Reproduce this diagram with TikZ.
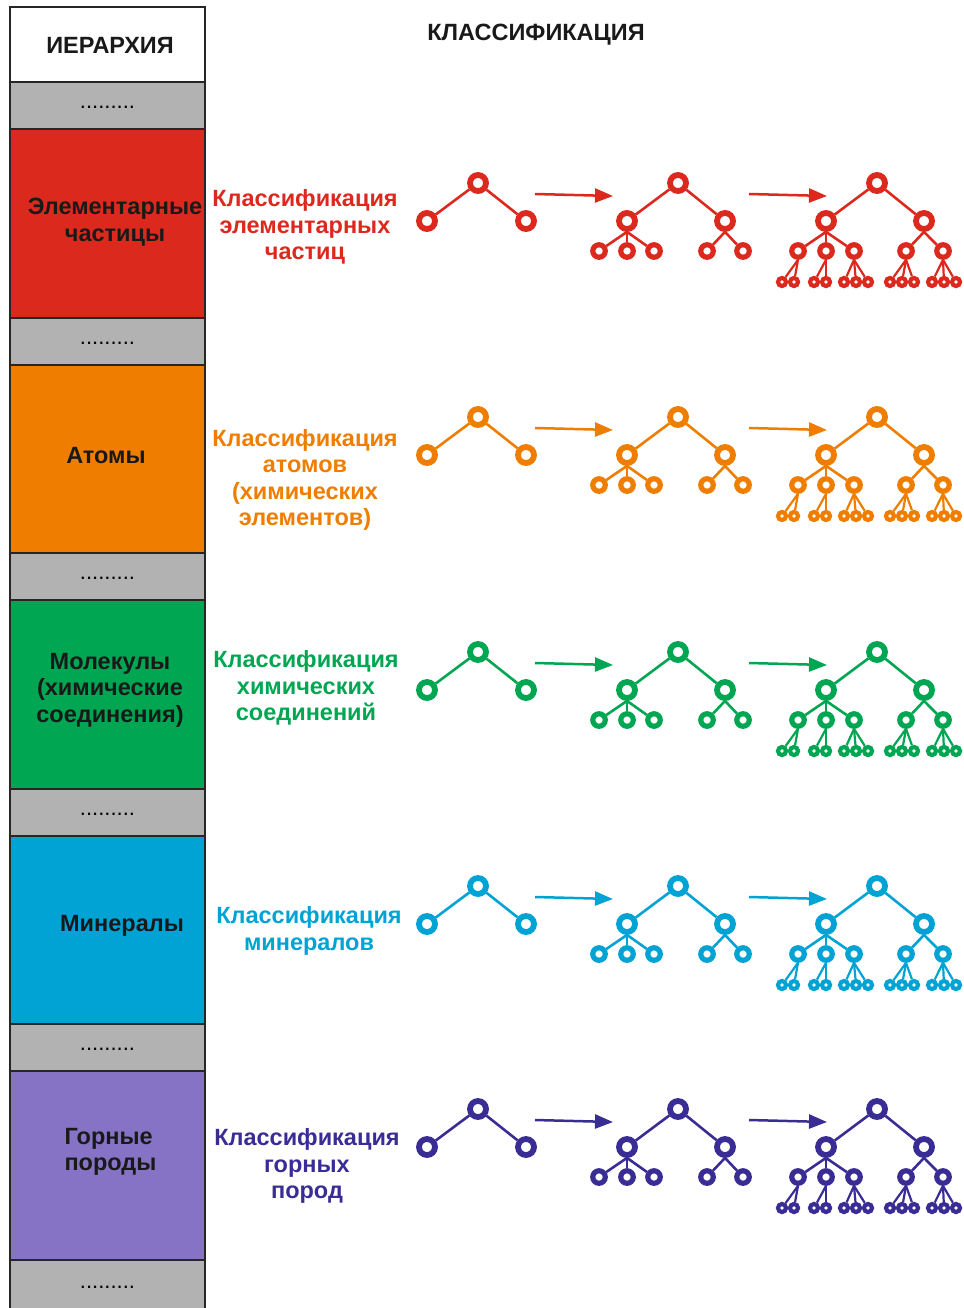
\documentclass[tikz,border=0pt]{standalone}
\usepackage{fontspec}
\setmainfont{Liberation Sans}
\usetikzlibrary{arrows.meta}

\definecolor{elemred}{HTML}{DC291E}
\definecolor{atomorange}{HTML}{EF7D00}
\definecolor{molgreen}{HTML}{00A651}
\definecolor{minblue}{HTML}{00A3D4}
\definecolor{rockfill}{HTML}{8673C6}
\definecolor{rockblue}{HTML}{3A2C95}
\definecolor{gapgray}{HTML}{B2B2B2}

\tikzset{
  levelbox/.style={draw=black!85, line width=1.6pt, minimum width=195pt, inner sep=0pt},
  gapbox/.style={levelbox, fill=gapgray, minimum height=47pt, text height=6pt, text depth=0pt,
    font=\fontsize{22}{22}\selectfont},
  bigring/.style={circle, draw, fill=white, line width=5.8pt, minimum size=16pt, inner sep=0pt},
  midring/.style={bigring, line width=5.2pt, minimum size=12.5pt},
  smallring/.style={bigring, line width=4.2pt, minimum size=8pt},
  refinearrow/.style={line width=2.5pt, -{Triangle[length=18pt,width=14pt]}},
  lbl/.style={font=\fontsize{23.5}{26.5}\selectfont\bfseries, align=center},
}

% three trees of one row: prefix, colour, y of the roots
\newcommand{\classtrees}[3]{%
  \begin{scope}[shift={(0,#3)}, name prefix=#1-, color=#2]

    \begin{scope}[every node/.style={bigring}]
      \node (a0) at (478,0)  {};
      \node (a1) at (427,38) {};
      \node (a2) at (526,38) {};
      \node (b0) at (678,0)  {};
      \node (b1) at (627,38) {};
      \node (b2) at (725,38) {};
      \node (c0) at (877,0)  {};
      \node (c1) at (826,38) {};
      \node (c2) at (924,38) {};
    \end{scope}

    \begin{scope}[every node/.style={midring}]
      \node (b11) at (599,68) {};
      \node (b12) at (627,68) {};
      \node (b13) at (654,68) {};
      \node (b21) at (707,68) {};
      \node (b22) at (743,68) {};
      \node (c11) at (798,68) {};
      \node (c12) at (826,68) {};
      \node (c13) at (854,68) {};
      \node (c21) at (906,68) {};
      \node (c22) at (943,68) {};
    \end{scope}

    \begin{scope}[every node/.style={smallring}]
      \node (c111) at (782,99) {};
      \node (c112) at (794,99) {};
      \node (c121) at (814,99) {};
      \node (c122) at (826,99) {};
      \node (c131) at (844,99) {};
      \node (c132) at (856,99) {};
      \node (c133) at (868,99) {};
      \node (c211) at (890,99) {};
      \node (c212) at (902,99) {};
      \node (c213) at (914,99) {};
      \node (c221) at (932,99) {};
      \node (c222) at (944,99) {};
      \node (c223) at (956,99) {};
    \end{scope}

    \coordinate (p1) at (535,11);
    \coordinate (p2) at (613,13);
    \coordinate (q1) at (749,11);
    \coordinate (q2) at (827,13);

    \begin{scope}[every edge/.style={draw, line width=2.6pt}]
      \path (a0) edge (a1) edge (a2);
      \path (b0) edge (b1) edge (b2);
      \path (b1.south) edge (b11) edge (b12) edge (b13);
      \path (b2.south) edge (b21) edge (b22);
      \path (c0) edge (c1) edge (c2);
      \path (c1.south) edge (c11) edge (c12) edge (c13);
      \path (c2.south) edge (c21) edge (c22);
    \end{scope}

    \begin{scope}[every edge/.style={draw, line width=2.2pt}]
      \path (c11.south) edge (c111) edge (c112);
      \path (c12.south) edge (c121) edge (c122);
      \path (c13.south) edge (c131) edge (c132) edge (c133);
      \path (c21.south) edge (c211) edge (c212) edge (c213);
      \path (c22.south) edge (c221) edge (c222) edge (c223);
    \end{scope}

    \draw[refinearrow] (p1) -- (p2);
    \draw[refinearrow] (q1) -- (q2);

  \end{scope}}

\begin{document}
\begin{tikzpicture}[x=1pt, y=-1pt]

  \useasboundingbox (0,0) rectangle (963,1308);

  % hierarchy column
  \node[levelbox, fill=white, minimum height=75pt] (hier) at (107.5,44.5) {};
  \node[gapbox] (gap0) at (107.5,105.5) {.........};
  \node[levelbox, fill=elemred, minimum height=189pt] (elem) at (107.5,223.5) {};
  \node[gapbox] (gap1) at (107.5,341.5) {.........};
  \node[levelbox, fill=atomorange, minimum height=188pt] (atom) at (107.5,459) {};
  \node[gapbox] (gap2) at (107.5,576.5) {.........};
  \node[levelbox, fill=molgreen, minimum height=189pt] (mol) at (107.5,694.5) {};
  \node[gapbox] (gap3) at (107.5,812.5) {.........};
  \node[levelbox, fill=minblue, minimum height=188pt] (mine) at (107.5,930) {};
  \node[gapbox] (gap4) at (107.5,1047.5) {.........};
  \node[levelbox, fill=rockfill, minimum height=189pt] (rock) at (107.5,1165.5) {};
  \node[gapbox, minimum height=50pt] (gap5) at (107.5,1285) {.........};

  \begin{scope}[every node/.style={lbl, text=black!90}]
    \node (hiert)  at (110,45)  {ИЕРАРХИЯ};
    \node (title)  at (536,35)  {КЛАССИФИКАЦИЯ};
    \node (elemt)  at (115,222) {Элементарные\\частицы};
    \node (atomt)  at (106,456) {Атомы};
    \node (molt)   at (110,690) {Молекулы\\(химические\\соединения)};
    \node (minet)  at (122,926) {Минералы};
    \node[align=left, anchor=west] (rockt) at (61,1152) {Горные\\породы};
  \end{scope}

  \node[lbl, text=elemred]    (elemc) at (305,227)  {Классификация\\элементарных\\частиц};
  \node[lbl, text=atomorange] (atomc) at (305,480)  {Классификация\\атомов\\(химических\\элементов)};
  \node[lbl, text=molgreen]   (molc)  at (306,688)  {Классификация\\химических\\соединений};
  \node[lbl, text=minblue]    (minec) at (309,931)  {Классификация\\минералов};
  \node[lbl, text=rockblue]   (rockc) at (307,1166) {Классификация\\горных\\пород};

  \classtrees{r1}{elemred}{183}
  \classtrees{r2}{atomorange}{417}
  \classtrees{r3}{molgreen}{652}
  \classtrees{r4}{minblue}{886}
  \classtrees{r5}{rockblue}{1109}

\end{tikzpicture}
\end{document}
